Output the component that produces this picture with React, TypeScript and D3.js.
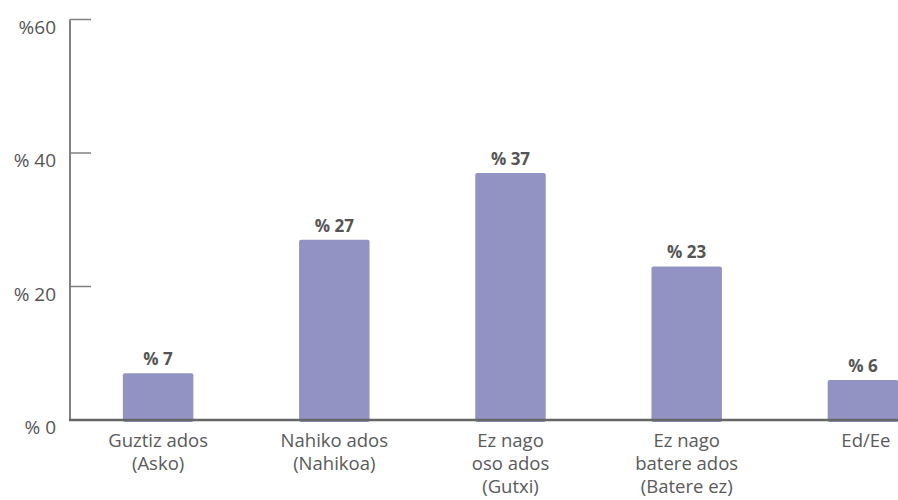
import React from "react";
import * as d3 from "d3";

const categories: string[][] = [
  ["Guztiz ados", "(Asko)"],
  ["Nahiko ados", "(Nahikoa)"],
  ["Ez nago", "oso ados", "(Gutxi)"],
  ["Ez nago", "batere ados", "(Batere ez)"],
  ["Ed/Ee"],
];
const values: number[] = [7, 27, 37, 23, 6];
const valueLabels: string[] = ["% 7", "% 27", "% 37", "% 23", "% 6"];
const tickValues: number[] = [0, 20, 40, 60];
const tickLabels: string[] = ["% 0", "% 20", "% 40", "%60"];

export default function App() {
  const W = 898;
  const H = 500;
  const axisX = 70;
  const y = d3.scaleLinear().domain([0, 60]).range([420, 19.5]);
  const x = d3
    .scaleBand<number>()
    .domain(d3.range(values.length))
    .range([70, 951])
    .paddingInner(0.6)
    .paddingOuter(0.3);
  const font = "'Open Sans', sans-serif";
  return (
    <svg
      width={W}
      height={H}
      style={{ position: "absolute", left: 0, top: 0, background: "#fff" }}
    >
      {values.map((v, i) => {
        const bx = x(i)!;
        const bw = x.bandwidth();
        return (
          <g key={i}>
            <rect
              x={bx}
              y={y(v)}
              width={bw}
              height={y(0) - y(v) + 2}
              rx={2}
              fill="#9393c3"
            />
            <text
              x={bx + bw / 2}
              y={y(v) - 8}
              textAnchor="middle"
              fontFamily={font}
              fontWeight={700}
              fontSize={17}
              fill="#555"
            >
              {valueLabels[i]}
            </text>
            {categories[i].map((line, j) => (
              <text
                key={j}
                x={bx + bw / 2 + (i === 4 ? 3 : 0)}
                y={447 + j * 23}
                textAnchor="middle"
                fontFamily={font}
                fontSize={18.5}
                fill="#5a5a5a"
              >
                {line}
              </text>
            ))}
          </g>
        );
      })}
      <line x1={axisX} x2={axisX} y1={y(60)} y2={y(0)} stroke="#808080" strokeWidth={2} />
      {tickValues.map((t, i) => (
        <g key={t}>
          {t > 0 && (
            <line x1={axisX} x2={91} y1={y(t)} y2={y(t)} stroke="#808080" strokeWidth={1.5} />
          )}
          <text
            x={56}
            y={y(t) + 14}
            textAnchor="end"
            fontFamily={font}
            fontSize={19}
            fill="#555"
          >
            {tickLabels[i]}
          </text>
        </g>
      ))}
      <line x1={axisX - 1} x2={W} y1={y(0)} y2={y(0)} stroke="#666" strokeWidth={2.5} />
    </svg>
  );
}
